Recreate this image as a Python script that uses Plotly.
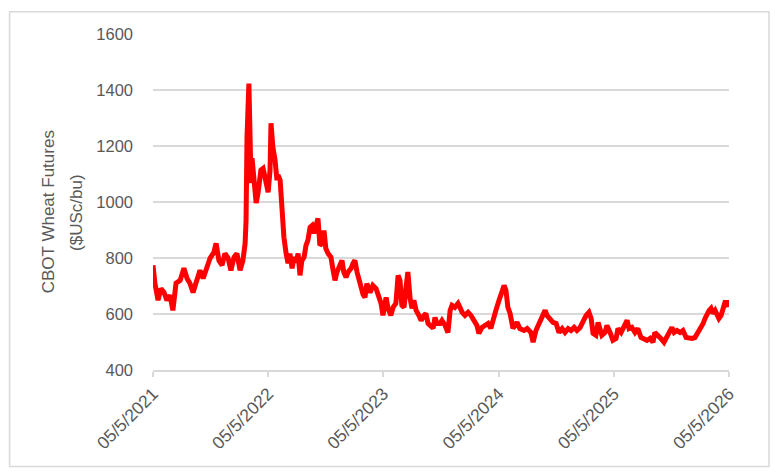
import plotly.graph_objects as go

# CBOT wheat front-month futures, US cents per bushel
dates = [
    "2021-05-05", "2021-05-11", "2021-05-21", "2021-05-30", "2021-06-09", "2021-06-18",
    "2021-06-28", "2021-07-07", "2021-07-17", "2021-07-30", "2021-08-11", "2021-08-21",
    "2021-08-30", "2021-09-09", "2021-09-18", "2021-10-01", "2021-10-11", "2021-10-20",
    "2021-11-02", "2021-11-14", "2021-11-21", "2021-11-30", "2021-12-10", "2021-12-19",
    "2021-12-29", "2022-01-07", "2022-01-17", "2022-01-26", "2022-02-05", "2022-02-14",
    "2022-02-21", "2022-02-24", "2022-02-27", "2022-03-05", "2022-03-12", "2022-03-15",
    "2022-03-21", "2022-03-28", "2022-04-03", "2022-04-12", "2022-04-19", "2022-04-25",
    "2022-05-05", "2022-05-11", "2022-05-14", "2022-05-20", "2022-05-27", "2022-06-02",
    "2022-06-05", "2022-06-12", "2022-06-18", "2022-06-24", "2022-07-01", "2022-07-07",
    "2022-07-13", "2022-07-20", "2022-07-26", "2022-08-01", "2022-08-08", "2022-08-14",
    "2022-08-20", "2022-08-27", "2022-09-02", "2022-09-08", "2022-09-15", "2022-09-21",
    "2022-09-27", "2022-10-04", "2022-10-10", "2022-10-16", "2022-10-23", "2022-10-29",
    "2022-11-04", "2022-11-11", "2022-11-20", "2022-11-27", "2022-12-03", "2022-12-09",
    "2022-12-19", "2022-12-25", "2022-12-31", "2023-01-07", "2023-01-13", "2023-01-23",
    "2023-01-29", "2023-02-04", "2023-02-11", "2023-02-17", "2023-02-23", "2023-03-02",
    "2023-03-08", "2023-03-14", "2023-03-24", "2023-04-02", "2023-04-12", "2023-04-18",
    "2023-04-28", "2023-05-04", "2023-05-14", "2023-05-20", "2023-05-29", "2023-06-05",
    "2023-06-14", "2023-06-21", "2023-06-27", "2023-07-03", "2023-07-10", "2023-07-16",
    "2023-07-22", "2023-07-29", "2023-08-04", "2023-08-10", "2023-08-17", "2023-08-26",
    "2023-09-02", "2023-09-11", "2023-09-17", "2023-09-24", "2023-10-03", "2023-10-10",
    "2023-10-16", "2023-10-22", "2023-11-01", "2023-11-07", "2023-11-17", "2023-11-26",
    "2023-12-03", "2023-12-09", "2023-12-18", "2023-12-28", "2024-01-03", "2024-01-10",
    "2024-01-19", "2024-01-29", "2024-02-07", "2024-02-17", "2024-02-26", "2024-03-03",
    "2024-03-13", "2024-03-22", "2024-04-01", "2024-04-10", "2024-04-20", "2024-04-26",
    "2024-05-06", "2024-05-15", "2024-05-22", "2024-05-28", "2024-06-03", "2024-06-10",
    "2024-06-19", "2024-06-26", "2024-07-02", "2024-07-11", "2024-07-24", "2024-08-03",
    "2024-08-15", "2024-08-22", "2024-08-31", "2024-09-10", "2024-09-19", "2024-09-29",
    "2024-10-05", "2024-10-15", "2024-10-24", "2024-11-03", "2024-11-12", "2024-11-22",
    "2024-12-01", "2024-12-11", "2024-12-20", "2024-12-30", "2025-01-08", "2025-01-18",
    "2025-01-27", "2025-02-06", "2025-02-15", "2025-02-22", "2025-02-28", "2025-03-09",
    "2025-03-16", "2025-03-22", "2025-03-28", "2025-04-07", "2025-04-13", "2025-04-23",
    "2025-05-02", "2025-05-12", "2025-05-18", "2025-05-28", "2025-06-06", "2025-06-16",
    "2025-06-22", "2025-07-01", "2025-07-11", "2025-07-20", "2025-07-30", "2025-08-09",
    "2025-08-18", "2025-08-28", "2025-09-06", "2025-09-12", "2025-09-22", "2025-10-01",
    "2025-10-11", "2025-10-20", "2025-10-30", "2025-11-05", "2025-11-12", "2025-11-21",
    "2025-12-01", "2025-12-10", "2025-12-20", "2025-12-29", "2026-01-08", "2026-01-17",
    "2026-01-27", "2026-02-05", "2026-02-12", "2026-02-18", "2026-02-24", "2026-03-03",
    "2026-03-09", "2026-03-15", "2026-03-22", "2026-03-28", "2026-04-03", "2026-04-10",
    "2026-04-16", "2026-04-22", "2026-04-29", "2026-05-02",
]

prices = [
    774, 710, 649, 691, 677, 649,
    667, 613, 710, 720, 763, 727,
    710, 677, 710, 756, 727, 756,
    800, 820, 852, 791, 774, 816,
    800, 756, 803, 816, 756, 791,
    852, 934, 1231, 1423, 1067, 1156,
    1053, 996, 1032, 1114, 1120, 1078,
    1035, 1114, 1281, 1196, 1149, 1078,
    1096, 1078, 950, 874, 816, 781,
    816, 763, 803, 784, 816, 738,
    791, 803, 845, 863, 910, 916,
    888, 927, 941, 845, 852, 898,
    834, 816, 803, 756, 720, 749,
    774, 791, 749, 731, 749, 763,
    781, 791, 749, 720, 702, 670,
    659, 709, 677, 702, 691, 674,
    638, 595, 659, 620, 595, 624,
    638, 738, 720, 631, 624, 695,
    750, 656, 620, 649, 613, 595,
    577, 595, 602, 566, 559, 549,
    588, 566, 566, 577, 559, 534,
    613, 631, 624, 638, 624, 606,
    595, 606, 595, 577, 559, 531,
    552, 559, 566, 549, 595, 613,
    649, 684, 702, 684, 624, 602,
    549, 559, 570, 548, 541, 548,
    534, 499, 541, 566, 584, 613,
    595, 584, 570, 566, 534, 548,
    534, 548, 541, 552, 541, 552,
    577, 595, 606, 584, 531, 524,
    570, 548, 524, 534, 559, 534,
    506, 513, 548, 534, 552, 577,
    548, 552, 534, 548, 516, 513,
    506, 513, 499, 534, 524, 513,
    499, 516, 541, 552, 534, 541,
    534, 541, 516, 513, 513, 516,
    534, 548, 566, 584, 602, 613,
    620, 602, 613, 595, 584, 595,
    613, 641, 641, 624,
]

tick_dates = ["2021-05-05", "2022-05-05", "2023-05-05", "2024-05-05", "2025-05-05", "2026-05-05"]
tick_labels = ["05/5/2021", "05/5/2022", "05/5/2023", "05/5/2024", "05/5/2025", "05/5/2026"]
y_title = ["CBOT Wheat Futures", "($USc/bu)"]

grey = "#d9d9d9"
text_grey = "#595959"
font_family = "Liberation Sans, Arial, sans-serif"

fig = go.Figure()
fig.add_trace(go.Scatter(x=dates, y=prices, mode="lines",
                         line=dict(color="#ff0000", width=5), showlegend=False))

# the page adds an 8px body margin, margins below allow for it
fig.update_layout(
    width=780, height=475,
    margin=dict(l=145, r=59, t=26, b=113),
    paper_bgcolor="white", plot_bgcolor="white",
    font=dict(family=font_family, size=16, color=text_grey),
)

fig.update_xaxes(
    type="date", range=["2021-05-05", "2026-05-05"],
    tickvals=tick_dates, ticktext=tick_labels, tickangle=-45,
    showgrid=False, showline=True, linecolor=grey, linewidth=1.5,
    ticks="outside", ticklen=5, tickcolor=grey, tickwidth=1.5,
    tickfont=dict(size=17.5, color=text_grey),
)

fig.update_yaxes(
    range=[400, 1600], dtick=200, showgrid=True, gridcolor=grey, gridwidth=1.5,
    zeroline=False, showline=False, ticks="", ticklabelstandoff=19,
    tickfont=dict(size=16.5, color=text_grey),
)

# two-line axis title, Excel spaces the lines wider than plotly does
for xpos, line in zip([-0.182, -0.134], y_title):
    fig.add_annotation(text=line, xref="paper", yref="paper", x=xpos, y=0.47,
                       textangle=-90, showarrow=False, xanchor="center", yanchor="middle",
                       font=dict(size=17, color=text_grey, family=font_family))

# chart-area border like the Excel original
fig.add_shape(type="rect", xref="paper", yref="paper",
              x0=-0.249, x1=1.0694, y0=-0.2872, y1=1.0664,
              line=dict(color=grey, width=1.5), fillcolor="rgba(0,0,0,0)")

fig.write_html("out.html")
